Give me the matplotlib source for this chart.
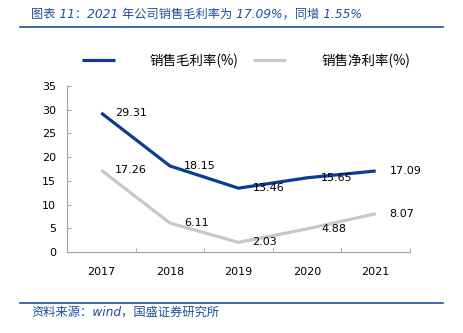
import matplotlib
matplotlib.use('Agg')
import matplotlib.pyplot as plt
import numpy as np

plt.rcParams['font.family'] = ['DejaVu Sans', 'Noto Sans CJK SC']

years = ['2017', '2018', '2019', '2020', '2021']
gross_margin = [29.31, 18.15, 13.46, 15.65, 17.09]
net_margin = [17.26, 6.11, 2.03, 4.88, 8.07]
series_names = ['销售毛利率(%)', '销售净利率(%)']
title = '图表 11：2021 年公司销售毛利率为 17.09%，同增 1.55%'
source = '资料来源：wind，国盛证券研究所'

blue = '#0a3d91'
grey = '#c8c8c8'
navy = '#1f4e9c'

fig = plt.figure(figsize=(4.63, 3.33), dpi=100)
ax = fig.add_axes([0.1447, 0.2432, 0.7408, 0.4985])

x = np.arange(len(years))
l1, = ax.plot(x, gross_margin, color=blue, lw=2.3, solid_capstyle='butt', label=series_names[0])
l2, = ax.plot(x, net_margin, color=grey, lw=2.3, solid_capstyle='butt', label=series_names[1])

# value labels sit to the right of each point
for vals in [gross_margin, net_margin]:
    for xi, v in zip(x, vals):
        ax.annotate('{:.2f}'.format(v), xy=(xi, v), xytext=(10, 0),
                    textcoords='offset points', ha='left', va='center',
                    fontsize=8, color='black')

ax.set_xlim(-0.5, 4.5)
ax.set_ylim(0, 35)
ax.set_yticks(np.arange(0, 36, 5))
ax.set_xticks(x)
ax.set_xticklabels(years)
ax.set_xticks(np.arange(-0.5, 5, 1), minor=True)
ax.tick_params(axis='x', which='major', length=0, pad=11, labelsize=8)
ax.tick_params(axis='x', which='minor', direction='in', length=3, color='#a0a0a0')
ax.tick_params(axis='y', direction='in', length=3, color='#a0a0a0', pad=8, labelsize=8)

for side in ['top', 'right']:
    ax.spines[side].set_visible(False)
for side in ['left', 'bottom']:
    ax.spines[side].set_color('#a0a0a0')
    ax.spines[side].set_linewidth(0.8)

fig.legend(handles=[l1, l2], loc='center', bbox_to_anchor=(0.531, 0.817),
           ncol=2, frameon=False, handlelength=2.45,
           handletextpad=2.6, columnspacing=1.1,
           prop={'family': ['Noto Sans CJK SC'], 'size': 9.7})

# header and footer
fig.text(0.067, 0.958, title, color=navy, fontsize=8.8, style='italic',
         ha='left', va='center')
fig.add_artist(plt.Line2D([0.043, 0.957], [0.919, 0.919], color=navy, lw=1.2))
fig.add_artist(plt.Line2D([0.043, 0.957], [0.090, 0.090], color=navy, lw=1.2))
fig.text(0.067, 0.063, source, color=navy, fontsize=8.8, style='italic',
         ha='left', va='center')

fig.savefig('out.png', dpi=100)
